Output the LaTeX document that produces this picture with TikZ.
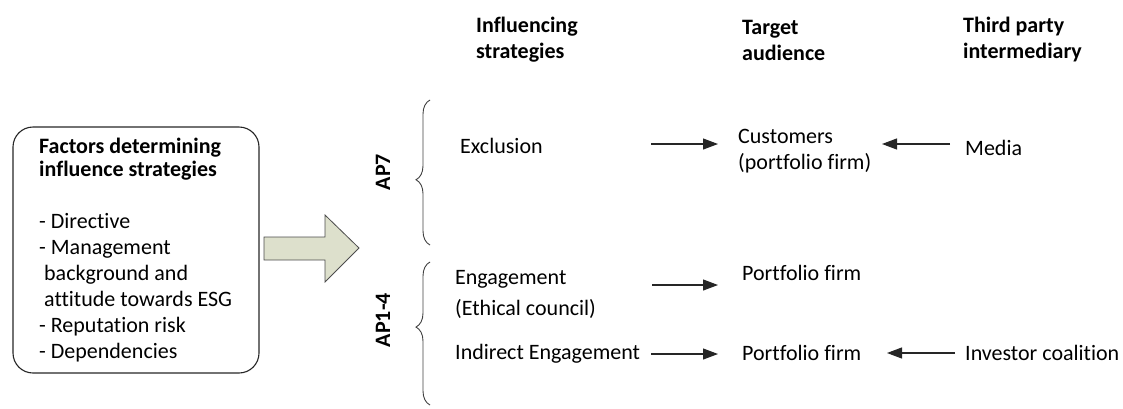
\documentclass[tikz,border=0pt]{standalone}
\usepackage{fontspec}
\setmainfont{Carlito}[Ligatures={TeX,NoCommon}]
\usetikzlibrary{arrows.meta,decorations.pathreplacing}
\begin{document}
\begin{tikzpicture}[x=1pt,y=-1pt,
  txt/.style={inner sep=0pt, anchor=west, align=left, font=\fontsize{22}{26}\selectfont},
  hdr/.style={txt, font=\fontsize{22}{26}\selectfont\bfseries},
  arr/.style={draw=black!85, line width=1.1pt, -{Triangle[length=15pt,width=11pt]}},
  brc/.style={draw=black!75, line width=0.9pt, decorate},
  aplabel/.style={inner sep=0pt, rotate=90, font=\fontsize{22}{24}\selectfont\bfseries}]
\path[use as bounding box] (0,0) rectangle (1123,408);

% left box
\node[draw=black!85, line width=1.1pt, rounded corners=20pt, minimum width=246pt, minimum height=246pt, inner sep=0pt] (box) at (136,250) {};
\node[txt] (boxtext) at (39,250) {\textbf{Factors determining}\\[-3pt]\textbf{influence strategies}\\[26pt]
- Directive\\- Management\\ \ background and\\ \ attitude towards ESG\\- Reputation risk\\- Dependencies};

% big arrow
\draw[draw=black!70, line width=0.8pt, fill={rgb,255:red,221;green,224;blue,204}]
  (264,237) -- (325,237) -- (325,215) -- (359,248) -- (325,282) -- (325,260) -- (264,260) -- cycle;

% headers
\node[hdr] (h1) at (476,40) {Influencing\\strategies};
\node[hdr] (h2) at (742,40) {Target\\audience};
\node[hdr] (h3) at (963,40) {Third party\\intermediary};

% braces
\coordinate (b1s) at (430,245); \coordinate (b1e) at (430,100);
\coordinate (b2s) at (430,405); \coordinate (b2e) at (430,262);
\draw[brc, decoration={brace, amplitude=14pt, aspect=0.45}] (b1s) -- (b1e);
\draw[brc, decoration={brace, amplitude=14pt, aspect=0.545}] (b2s) -- (b2e);
\node[aplabel] (ap7) at (383,172) {AP7};
\node[aplabel] (ap14) at (383,320) {AP1-4};

% texts
\node[txt] (excl) at (460,146) {Exclusion};
\node[txt] (cust) at (738,151) {Customers\\(portfolio firm)};
\node[txt] (media) at (965,148) {Media};
\node[txt] (eng) at (455,294) {Engagement\\[5pt](Ethical council)};
\node[txt] (pf1) at (742,273) {Portfolio firm};
\node[txt] (ieng) at (455,354) {Indirect Engagement};
\node[txt] (pf2) at (742,353) {Portfolio firm};
\node[txt] (inv) at (965,353) {Investor coalition};

% arrows
\coordinate (a1s) at (651,144); \coordinate (a1e) at (718,144);
\coordinate (a2s) at (950,144); \coordinate (a2e) at (882,144);
\coordinate (a3s) at (652,285); \coordinate (a3e) at (718,285);
\coordinate (a4s) at (651,354); \coordinate (a4e) at (718,354);
\coordinate (a5s) at (955,353); \coordinate (a5e) at (887,353);
\draw[arr] (a1s) -- (a1e);
\draw[arr] (a2s) -- (a2e);
\draw[arr] (a3s) -- (a3e);
\draw[arr] (a4s) -- (a4e);
\draw[arr] (a5s) -- (a5e);
\end{tikzpicture}
\end{document}
